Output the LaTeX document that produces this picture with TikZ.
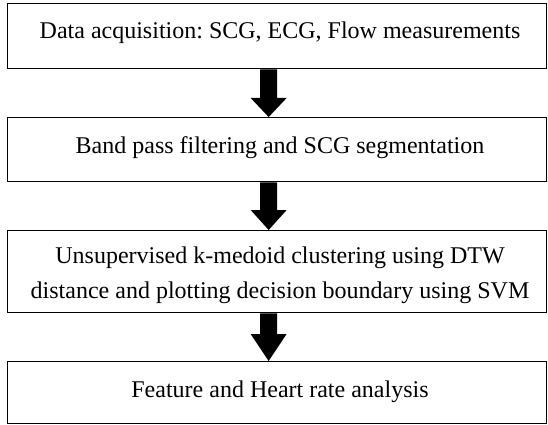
\documentclass[tikz,border=0pt]{standalone}
\usepackage{fontspec}
\setmainfont{Liberation Serif}
\usetikzlibrary{calc}
\frenchspacing
\newcommand{\flowarrow}[3]{%
  \fill ($(#1.south)+(-17,0)$) -- ($(#2.north)+(-17,#3)$) -- ($(#2.north)+(-26.5,#3)$)
    -- ($(#2.north)+(-8.5,0)$) -- ($(#2.north)+(9.5,#3)$) -- ($(#2.north)+(0,#3)$)
    -- ($(#1.south)+(0,0)$) -- cycle;}
\begin{document}
\begin{tikzpicture}[x=1pt,y=1pt,
  stagebox/.style={draw=black, line width=1.3pt, minimum width=539pt, inner sep=0pt, anchor=north west},
  stagetext/.style={font=\fontsize{24}{35}\selectfont\frenchspacing, align=center, inner sep=0pt, text=black}]
\useasboundingbox (0,0) rectangle (548,-425);
\node[stagebox, minimum height=65pt] (b1) at (7,-3) {};
\node[stagebox, minimum height=64pt] (b2) at (7,-117) {};
\node[stagebox, minimum height=82pt] (b3) at (7,-230) {};
\node[stagebox, minimum height=62pt] (b4) at (7,-361) {};
\node[stagetext, anchor=base] (t1) at (280,-39) {Data acquisition: SCG, ECG, Flow measurements};
\node[stagetext, anchor=base] (t2) at (280,-153) {Band pass filtering and SCG segmentation};
\node[stagetext] (t3) at (280,-275) {Unsupervised k-medoid clustering using DTW\\distance and plotting decision boundary using SVM};
\node[stagetext, anchor=base] (t4) at (280,-397) {Feature and Heart rate analysis};
\flowarrow{b1}{b2}{19}
\flowarrow{b2}{b3}{20}
\flowarrow{b3}{b4}{27}
\end{tikzpicture}
\end{document}
